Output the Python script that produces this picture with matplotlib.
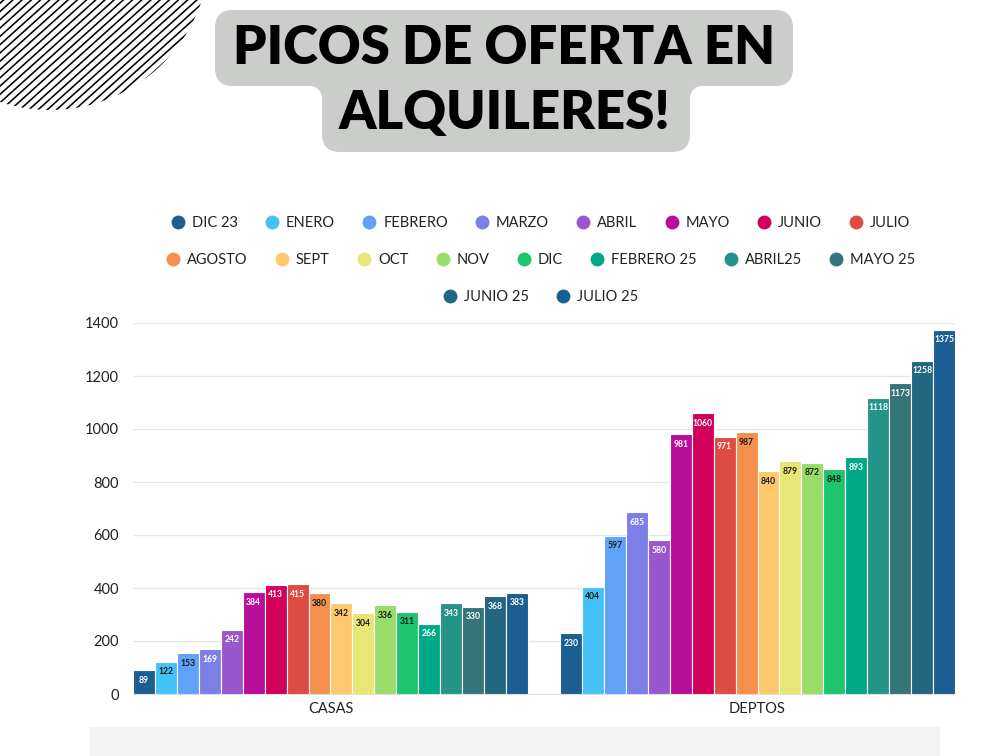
import matplotlib
matplotlib.use("Agg")
import matplotlib.pyplot as plt
from matplotlib.patches import FancyBboxPatch, Rectangle, Circle
from matplotlib.lines import Line2D
import numpy as np

categories = ["CASAS", "DEPTOS"]
series = ["DIC 23", "ENERO", "FEBRERO", "MARZO", "ABRIL", "MAYO", "JUNIO", "JULIO",
          "AGOSTO", "SEPT", "OCT", "NOV", "DIC", "FEBRERO 25", "ABRIL25", "MAYO 25",
          "JUNIO 25", "JULIO 25"]
casas = [89, 122, 153, 169, 242, 384, 413, 415, 380, 342, 304, 336, 311, 266, 343, 330, 368, 383]
deptos = [230, 404, 597, 685, 580, 981, 1060, 971, 987, 840, 879, 872, 848, 893, 1118, 1173, 1258, 1375]
colors = ["#1b5e90", "#44c2f7", "#60a2f8", "#7c7fe6", "#9a56cc", "#b90e9b", "#d1005a", "#dd4b42",
          "#f58f4d", "#fec86f", "#e7e676", "#98dc6a", "#1ec46e", "#00a985", "#249388", "#35757a",
          "#236681", "#1b5e91"]
dark_label = {"ENERO", "FEBRERO", "AGOSTO", "SEPT", "OCT", "NOV", "DIC"}
yticks = [0, 200, 400, 600, 800, 1000, 1200, 1400]

W, H = 1000, 756
fig = plt.figure(figsize=(W / 100, H / 100), dpi=100)
fig.patch.set_facecolor("white")

# background decoration axes in pixel coords
bg = fig.add_axes([0, 0, 1, 1], zorder=0)
bg.set_xlim(0, W)
bg.set_ylim(H, 0)
bg.axis("off")

# striped quarter circle top-left
clip = Circle((50, -50), 160, transform=bg.transData, facecolor="none", edgecolor="none")
bg.add_patch(clip)
ang = np.deg2rad(42)
L = 400
for c in np.arange(-300, 420, 9.2):
    ln, = bg.plot([c - L * np.cos(ang), c + L * np.cos(ang)],
                  [L * np.sin(ang), -L * np.sin(ang)],
                  color="black", lw=1.15, solid_capstyle="butt")
    ln.set_clip_path(clip)

# title boxes
grey = "#cbcdca"
b1 = FancyBboxPatch((215, 10), 578, 76, boxstyle="round,pad=0,rounding_size=18",
                    facecolor=grey, edgecolor="none")
b2 = FancyBboxPatch((322, 70), 368, 82, boxstyle="round,pad=0,rounding_size=18",
                    facecolor=grey, edgecolor="none")
bg.add_patch(b1)
bg.add_patch(b2)
r = 12
bg.add_patch(Rectangle((322 - r, 84), r + 1, r + 2, facecolor=grey, edgecolor="none"))
bg.add_patch(Circle((322 - r, 86 + r), r, facecolor="white", edgecolor="none"))
bg.add_patch(Rectangle((689, 84), r + 1, r + 2, facecolor=grey, edgecolor="none"))
bg.add_patch(Circle((690 + r, 86 + r), r, facecolor="white", edgecolor="none"))
bg.text(504, 48, "PICOS DE OFERTA EN", ha="center", va="center", fontsize=38,
        fontweight="heavy", family="Lato", color="black")
bg.text(505, 114, "ALQUILERES!", ha="center", va="center", fontsize=38,
        fontweight="heavy", family="Lato", color="black")

# bottom grey strip
bg.add_patch(Rectangle((90, 727), 850, 40, facecolor="#f3f3f3", edgecolor="none"))

# chart axes
left, right = 133 / W, 955 / W
bottom, top = 1 - 694 / H, 1 - 323 / H
ax = fig.add_axes([left, bottom, right - left, top - bottom], zorder=1)
ax.set_facecolor("none")

n = len(series)
w = 0.0514
x = np.arange(len(categories))
for i, s in enumerate(series):
    vals = [casas[i], deptos[i]]
    pos = x - (n / 2) * w + (i + 0.5) * w
    ax.bar(pos, vals, width=w, color=colors[i], edgecolor="white", linewidth=0.8,
           label=s, zorder=3)
    tc = "#1a1a1a" if s in dark_label else "white"
    for p, v in zip(pos, vals):
        ax.annotate(str(v), (p, v), xytext=(0, -4), textcoords="offset points",
                    ha="center", va="top", fontsize=6.2, color=tc, family="Lato",
                    fontweight="bold", zorder=4)

ax.set_xlim(-0.4625, 1.4625)
ax.set_ylim(0, 1400)
ax.set_yticks(yticks)
ax.set_yticklabels([str(t) for t in yticks], fontsize=10.5, color="#222222", family="Lato")
ax.set_xticks(x)
ax.set_xticklabels(categories, fontsize=10.5, color="#222222", family="Lato")
ax.tick_params(axis="both", length=0)
ax.tick_params(axis="y", pad=10)
ax.tick_params(axis="x", pad=6)
ax.grid(axis="y", color="#e6e6e6", lw=1, zorder=0)
for sp in ["top", "right", "left"]:
    ax.spines[sp].set_visible(False)
ax.spines["bottom"].set_color("#dddddd")

# legend rows
rows = [series[0:8], series[8:16], series[16:18]]
row_y = [223, 260, 297]
for names, yy in zip(rows, row_y):
    handles = [Line2D([], [], marker="o", linestyle="none", markersize=10,
                      markerfacecolor=colors[series.index(nm)], markeredgecolor="none")
               for nm in names]
    leg = fig.legend(handles, names, loc="center", bbox_to_anchor=(0.541, 1 - yy / H),
                     ncol=len(names), frameon=False, handlelength=0.9, handletextpad=0.5,
                     columnspacing=1.9, prop={"family": "Lato", "size": 10.5})
    for t in leg.get_texts():
        t.set_color("#222222")

fig.savefig("out.png", dpi=100, facecolor="white")
